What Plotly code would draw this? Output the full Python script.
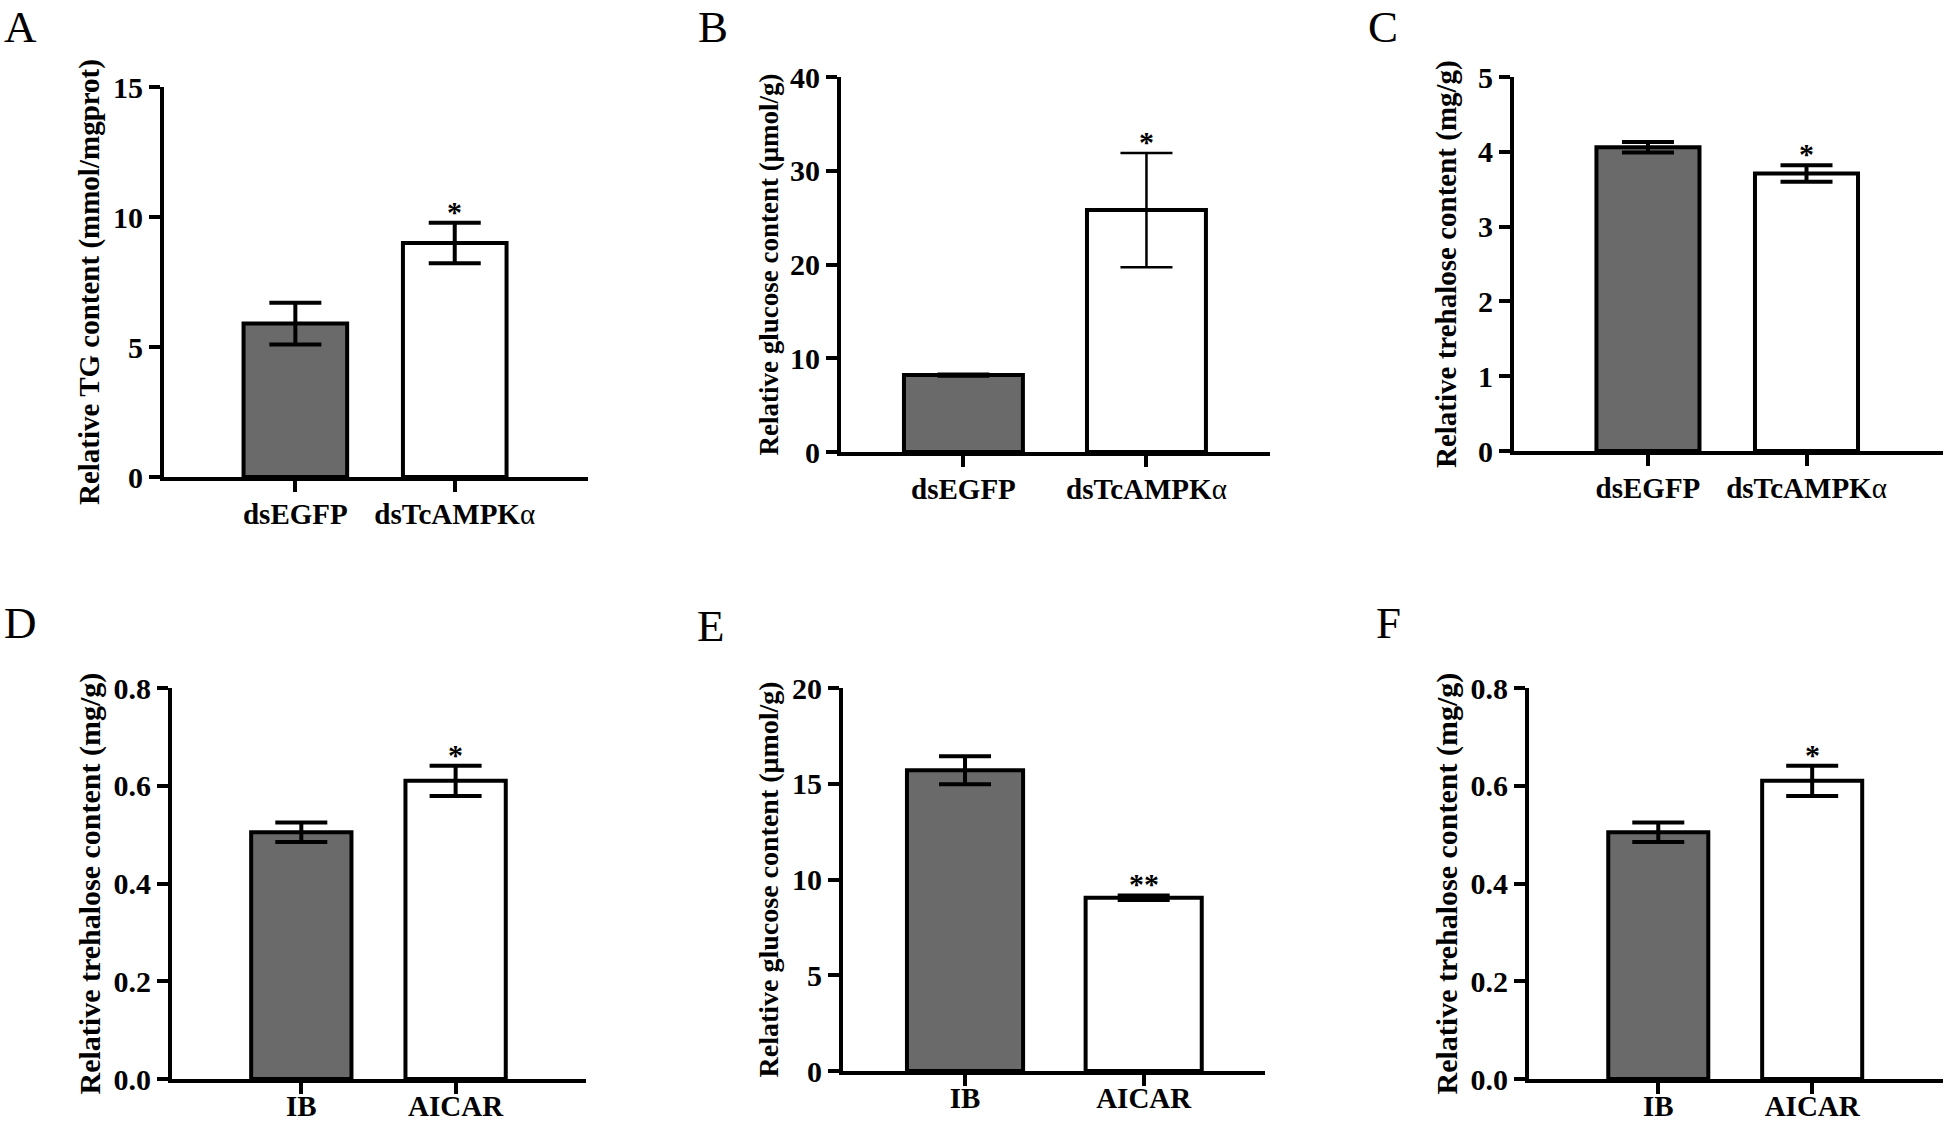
import plotly.graph_objects as go

# ---- data ----
groups_ds = ["dsEGFP", "dsTcAMPKα"]
groups_drug = ["IB", "AICAR"]

tg_mean = [5.9, 9.0]
tg_err = [0.8, 0.78]

glucose_ds_mean = [8.2, 25.8]
glucose_ds_err = [0.15, 6.1]

trehalose_ds_mean = [4.06, 3.71]
trehalose_ds_err = [0.07, 0.11]

trehalose_drug_mean = [0.505, 0.61]
trehalose_drug_err = [0.02, 0.031]

glucose_drug_mean = [15.7, 9.05]
glucose_drug_err = [0.73, 0.12]

sig_ds = ["", "*"]
sig_drug_d = ["", "*"]
sig_drug_e = ["", "**"]

y_titles = [
    "Relative TG content (mmol/mgprot)",
    "Relative glucose content (μmol/g)",
    "Relative trehalose content (mg/g)",
    "Relative trehalose content (mg/g)",
    "Relative glucose content (μmol/g)",
    "Relative trehalose content (mg/g)",
]
panel_letters = ["A", "B", "C", "D", "E", "F"]
y_ranges = [[0, 15], [0, 40], [0, 5], [0, 0.8], [0, 20], [0, 0.8]]
y_dtick = [5, 10, 1, 0.2, 5, 0.2]
y_fmt = ["d", "d", "d", ".1f", "d", ".1f"]

panels = [
    (groups_ds, tg_mean, tg_err, sig_ds),
    (groups_ds, glucose_ds_mean, glucose_ds_err, sig_ds),
    (groups_ds, trehalose_ds_mean, trehalose_ds_err, sig_ds),
    (groups_drug, trehalose_drug_mean, trehalose_drug_err, sig_drug_d),
    (groups_drug, glucose_drug_mean, glucose_drug_err, sig_drug_e),
    (groups_drug, trehalose_drug_mean, trehalose_drug_err, sig_drug_d),
]

# ---- layout (pixel geometry of a 1946 x 1124 canvas) ----
W, H = 1946, 1124
x_dom_px = [(164, 588), (841, 1270), (1514, 1943), (172, 586), (843, 1265), (1529, 1943)]
y_dom_px = [(87, 477), (77, 452), (77, 451), (688, 1079), (688, 1071), (688, 1079)]
x_ranges = [[-0.824, 1.836], [-0.669, 1.675], [-0.845, 1.861],
            [-0.838, 1.845], [-0.683, 1.679], [-0.84, 1.85]]
title_x_px = [89, 768, 1446, 89, 768, 1446]
title_size = [29, 27, 29, 30, 28, 30]
ytick_size = [30, 30, 30, 30, 30, 30]
xtick_size = [29, 29, 29, 29, 29, 29]
standoff = [-3, -3, -3, -13, -13, -13]
err_thick = [4, 2.5, 4, 4, 4, 4]
# (x, y, anchor): top row letters hang from the top edge, bottom row centred
letter_pos = [(2, 0, "top"), (696, 0, "top"), (1366, 0, "top"),
              (2, 623, "middle"), (695, 626, "middle"), (1374, 623, "middle")]

FONT = "Liberation Serif, Times New Roman, serif"
DARK = "#6a6a6a"

fig = go.Figure()
layout = dict(
    width=W, height=H, margin=dict(l=0, r=0, t=0, b=0, autoexpand=False),
    paper_bgcolor="white", plot_bgcolor="white", showlegend=False,
)
annotations = []

for i, (groups, mean, err, sig) in enumerate(panels):
    n = "" if i == 0 else str(i + 1)
    xa, ya = "x" + n, "y" + n
    fig.add_trace(go.Bar(
        x=groups, y=mean, xaxis=xa, yaxis=ya, width=0.65,
        marker=dict(color=[DARK, "white"], line=dict(color="black", width=4)),
        error_y=dict(type="data", array=err, visible=True, color="black",
                     thickness=err_thick[i], width=26),
        hoverinfo="x+y",
    ))

    ticktext = [g.replace("α", "<span style='font-weight:normal'>α</span>") for g in groups]
    x0, x1 = x_dom_px[i]
    y0, y1 = y_dom_px[i]
    layout["xaxis" + n] = dict(
        domain=[x0 / W, x1 / W], anchor=ya, range=x_ranges[i], automargin=False,
        showline=True, linewidth=4, linecolor="black",
        ticks="outside", ticklen=11, tickwidth=4, tickcolor="black",
        tickmode="array", tickvals=groups, ticktext=ticktext,
        ticklabelstandoff=standoff[i],
        tickfont=dict(family=FONT, size=xtick_size[i], color="black", weight="bold"),
        showgrid=False, zeroline=False, fixedrange=True,
    )
    layout["yaxis" + n] = dict(
        domain=[1 - y1 / H, 1 - y0 / H], anchor=xa, range=y_ranges[i], automargin=False,
        showline=True, linewidth=4, linecolor="black",
        ticks="outside", ticklen=11, tickwidth=4, tickcolor="black",
        dtick=y_dtick[i], tickformat=y_fmt[i],
        tickfont=dict(family=FONT, size=ytick_size[i], color="black", weight="bold"),
        showgrid=False, zeroline=False, fixedrange=True,
    )

    # y-axis title
    annotations.append(dict(
        x=title_x_px[i] / W, y=1 - (y0 + y1) / 2 / H, xref="paper", yref="paper",
        text=y_titles[i], textangle=-90, showarrow=False,
        xanchor="center", yanchor="middle",
        font=dict(family=FONT, size=title_size[i], color="black", weight="bold"),
    ))
    # significance marks
    for g, m, e, s in zip(groups, mean, err, sig):
        if s:
            annotations.append(dict(
                x=g, y=m + e, xref=xa, yref=ya, text=s, showarrow=False,
                yanchor="bottom", yshift=-7,
                font=dict(family=FONT, size=30, color="black", weight="bold"),
            ))
    # panel letter
    lx, ly, lanchor = letter_pos[i]
    annotations.append(dict(
        x=lx / W, y=1 - ly / H, xref="paper", yref="paper",
        text=panel_letters[i], showarrow=False, xanchor="left", yanchor=lanchor,
        font=dict(family=FONT, size=45, color="black"),
    ))

layout["annotations"] = annotations
fig.update_layout(**layout)
# drop the default 8px body margin so the canvas lines up with the window
fig.write_html("out.html", config={"displayModeBar": False},
               post_script="document.body.style.margin='0';")
